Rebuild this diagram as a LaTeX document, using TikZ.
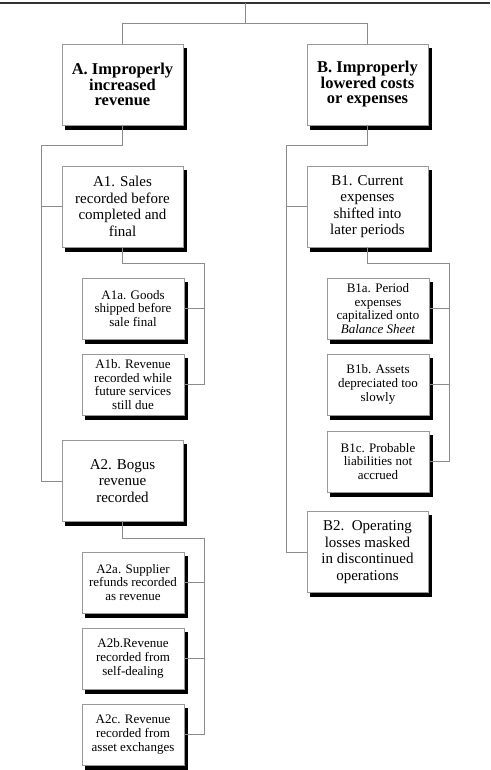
\documentclass[tikz,border=0pt]{standalone}
\usepackage{fontspec}
\setmainfont{Liberation Serif}
\usetikzlibrary{positioning}
\definecolor{linegray}{gray}{0.55}
\definecolor{boxgray}{gray}{0.6}

\begin{document}
\begin{tikzpicture}[x=1pt, y=1pt, on grid,
    box/.style={draw=boxgray, fill=white, line width=0.6pt, align=center, inner sep=0pt,
      preaction={fill=black, draw=black, line width=0.8pt, transform canvas={shift={(3.5pt,-4pt)}}}},
    head/.style={box, minimum width=121pt, minimum height=81pt, font=\fontsize{16.5}{15}\selectfont\bfseries},
    mid/.style={box, minimum width=121pt, minimum height=81pt, font=\fontsize{15}{16.5}\selectfont},
    leaf/.style={box, minimum width=102pt, minimum height=61pt, font=\fontsize{13}{13.7}\selectfont},
    link/.style={draw=linegray, line width=0.6pt},
    rule/.style={draw=black!80, line width=1.2pt}]
    \useasboundingbox (0,0) rectangle (490,-770);
    \coordinate (L) at (0,-3);
    \coordinate (R) at (490,-3);
    \coordinate (top) at (245,-3);
    \draw[rule] (L) -- (R);

    \node[head](A) at (122.5,-84.5){A. Improperly\\increased\\revenue};
    \node[head, right=245pt of A](B){B. Improperly\\lowered costs\\or expenses};

    \node[mid, below=122pt of A](A1){A1. Sales\\recorded before\\completed and\\final};
    \node[leaf, below right=102pt and 10.5pt of A1](A1a){A1a. Goods\\shipped before\\sale final};
    \node[leaf, below=76pt of A1a](A1b){A1b. Revenue\\recorded while\\future services\\still due};
    \node[mid, below left=96.5pt and 10.5pt of A1b](A2){A2. Bogus\\revenue\\recorded};
    \node[leaf, below right=101.5pt and 10.5pt of A2](A2a){A2a. Supplier\\refunds recorded\\as revenue};
    \node[leaf, below=76pt of A2a](A2b){A2b.Revenue\\recorded from\\self-dealing};
    \node[leaf, below=76pt of A2b](A2c){A2c. Revenue\\recorded from\\asset exchanges};

    \node[mid, below=122pt of B](B1){B1. Current\\expenses\\shifted into\\later periods};
    \node[leaf, below right=102pt and 10.5pt of B1](B1a){B1a. Period\\expenses\\capitalized onto\\\textit{Balance Sheet}};
    \node[leaf, below=76pt of B1a](B1b){B1b. Assets\\depreciated too\\slowly};
    \node[leaf, below=77pt of B1b](B1c){B1c. Probable\\liabilities not\\accrued};
    \node[mid, below left=90.5pt and 10.5pt of B1c](B2){B2.~~Operating\\losses masked\\in discontinued\\operations};

    \coordinate[below=20pt of top] (split);
    \coordinate[below left=20pt and 81.5pt of A.south] (Asplit);
    \coordinate[below left=20pt and 81.5pt of B.south] (Bsplit);
    \coordinate[below right=16pt and 81.5pt of A1.south] (A1split);
    \coordinate[below right=16pt and 81.5pt of A2.south] (A2split);
    \coordinate[below right=16pt and 81.5pt of B1.south] (B1split);

    \draw[link] (top) -- (split) -| (A);
    \draw[link] (split) -| (B);
    \draw[link] (A.south) |- (Asplit) |- (A1.west);
    \draw[link] (Asplit) |- (A2.west);
    \draw[link] (B.south) |- (Bsplit) |- (B1.west);
    \draw[link] (Bsplit) |- (B2.west);
    \draw[link] (A1.south) |- (A1split) |- (A1a.east);
    \draw[link] (A1split) |- (A1b.east);
    \draw[link] (A2.south) |- (A2split) |- (A2a.east);
    \draw[link] (A2split) |- (A2b.east);
    \draw[link] (A2split) |- (A2c.east);
    \draw[link] (B1.south) |- (B1split) |- (B1a.east);
    \draw[link] (B1split) |- (B1b.east);
    \draw[link] (B1split) |- (B1c.east);
  \end{tikzpicture}
\end{document}
